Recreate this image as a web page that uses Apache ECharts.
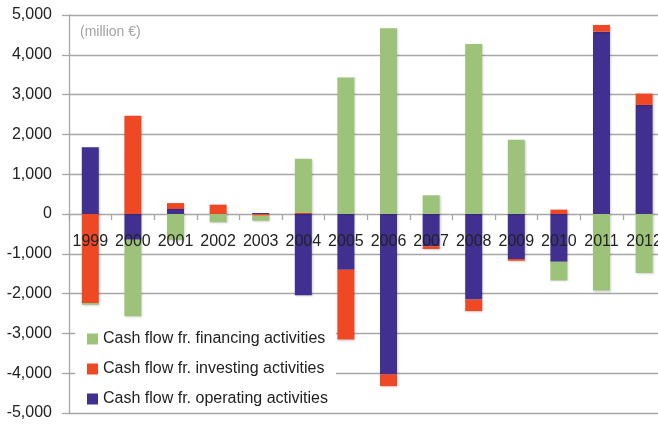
<!DOCTYPE html>
<html>
<head>
<meta charset="utf-8">
<script src="https://cdn.jsdelivr.net/npm/echarts@6/dist/echarts.min.js"></script>
<style>
  html, body { margin: 0; padding: 0; background: #fff; }
  #chart { width: 658px; height: 425px; }
</style>
</head>
<body>
<div id="chart"></div>
<script>
// categories
var years = ['1999', '2000', '2001', '2002', '2003', '2004', '2005', '2006', '2007', '2008', '2009', '2010', '2011', '2012'];

// million euro
var operating = [1680, -645, 125, 0, 25, -2040, -1400, -4030, -810, -2150, -1130, -1200, 4580, 2740];
var investing = [-2235, 2470, 150, 235, -40, 30, -1755, -295, -70, -290, -45, 110, 170, 285];
var financing = [-45, -1925, -650, -210, -130, 1360, 3430, 4665, 470, 4270, 1865, -470, -1925, -1480];

// value axis ticks
var yMin = -5000;
var yMax = 5000;
var yStep = 1000;

var font = "'Liberation Sans', Arial, sans-serif";
var gray = '#a6a6a6';

var chart = echarts.init(document.getElementById('chart'), null, { renderer: 'canvas' });

function barSeries(name, data, color) {
  return {
    name: name,
    type: 'bar',
    stack: 'cash',
    data: data,
    barWidth: 17,
    itemStyle: {
      color: color,
      shadowBlur: 2,
      shadowColor: 'rgba(0,0,0,0.18)',
      shadowOffsetX: 1,
      shadowOffsetY: 1
    }
  }
}

chart.setOption({
  animation: false,
  textStyle: { fontFamily: font },
  title: {
    text: '(million €)',
    left: 80,
    top: 25,
    padding: 0,
    textStyle: {
      fontFamily: font,
      fontSize: 14,
      fontWeight: 'normal',
      color: '#a3a3a3'
    }
  },
  legend: {
    orient: 'vertical',
    left: 75,
    top: 320,
    padding: [11, 8, 4, 12],
    backgroundColor: '#fff',
    itemWidth: 11,
    itemHeight: 11,
    itemGap: 14,
    icon: 'rect',
    data: ['Cash flow fr. financing activities', 'Cash flow fr. investing activities', 'Cash flow fr. operating activities'],
    textStyle: { fontFamily: font, fontSize: 16, color: '#222' }
  },
  grid: {
    left: 69,
    right: -7.4,
    top: 15,
    bottom: 12,
    containLabel: false,
    outerBoundsMode: 'none'
  },
  xAxis: {
    type: 'category',
    data: years,
    // sit the axis on the zero line (grid height 398, zero 199 px above the bottom)
    position: 'bottom',
    offset: -199,
    z: 10,
    axisLine: { show: true, onZero: false, lineStyle: { color: 'rgba(0,0,0,0)' } },
    axisTick: { show: true, length: 6, lineStyle: { color: gray, width: 1.3 } },
    axisLabel: {
      interval: 0,
      margin: 20,
      fontFamily: font,
      fontSize: 16,
      color: '#222'
    },
    splitLine: { show: false }
  },
  yAxis: {
    type: 'value',
    min: yMin,
    max: yMax,
    interval: yStep,
    axisLine: { show: true, lineStyle: { color: gray, width: 1.3 } },
    axisTick: { show: true, length: 7, lineStyle: { color: gray, width: 1.3 } },
    axisLabel: {
      margin: 17,
      fontFamily: font,
      fontSize: 16,
      color: '#222',
      formatter: function (v) { return echarts.format.addCommas(v); }
    },
    splitLine: { show: true, lineStyle: { color: gray, width: 1.3 } }
  },
  series: [
    barSeries('Cash flow fr. operating activities', operating, '#41308f'),
    barSeries('Cash flow fr. investing activities', investing, '#ee4824'),
    barSeries('Cash flow fr. financing activities', financing, '#9dc37a')
  ]
});
</script>
</body>
</html>
